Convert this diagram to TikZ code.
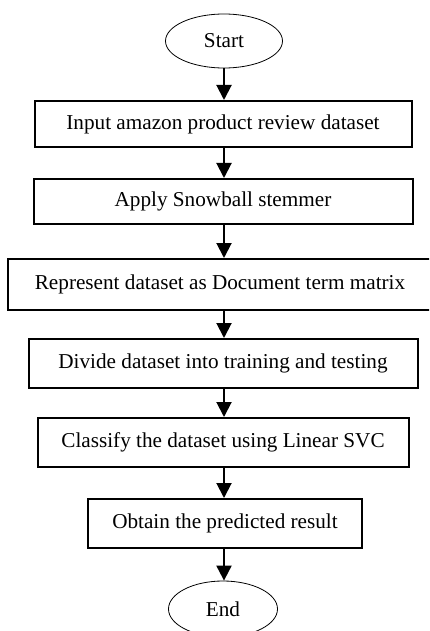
\documentclass[tikz,border=0pt]{standalone}
\usepackage{fontspec}
\setmainfont{Liberation Serif}
\usetikzlibrary{arrows.meta,shapes.geometric}
\begin{document}
\begin{tikzpicture}[x=1pt,y=-1pt,
  every node/.style={font=\fontsize{21.2}{25}\selectfont, inner sep=0pt},
  procbox/.style={draw, line width=2pt, rectangle},
  term/.style={draw, line width=0.8pt, ellipse},
  arr/.style={line width=2pt, -{Triangle[length=15pt,width=15pt]}}]
\useasboundingbox (0,0) rectangle (429,631);
\clip (0,0) rectangle (429,631);
\fill[white] (0,0) rectangle (429,631);
\node[term, minimum width=117pt, minimum height=54pt] (start) at (224,41) {Start};
\node[procbox, minimum width=377pt, minimum height=46pt] (b1) at (223,124) {Input amazon product review dataset};
\node[procbox, minimum width=379pt, minimum height=45pt] (b2) at (223,201.5) {Apply Snowball stemmer};
\node[procbox, minimum width=424pt, minimum height=51pt] (b3) at (220,284.5) {Represent dataset as Document term matrix};
\node[procbox, minimum width=389pt, minimum height=49pt] (b4) at (223,363.5) {Divide dataset into training and testing};
\node[procbox, minimum width=371pt, minimum height=49pt] (b5) at (223,442.5) {Classify the dataset using Linear SVC};
\node[procbox, minimum width=274pt, minimum height=49pt] (b6) at (225,523.5) {Obtain the predicted result};
\node[term, minimum width=109pt, minimum height=56pt] (end) at (223,609) {End};
\draw[arr] (start.south) -- (start.south |- b1.north);
\draw[arr] (start.south |- b1.south) -- (start.south |- b2.north);
\draw[arr] (start.south |- b2.south) -- (start.south |- b3.north);
\draw[arr] (start.south |- b3.south) -- (start.south |- b4.north);
\draw[arr] (start.south |- b4.south) -- (start.south |- b5.north);
\draw[arr] (start.south |- b5.south) -- (start.south |- b6.north);
\draw[arr] (start.south |- b6.south) -- (start.south |- end.north);
\end{tikzpicture}
\end{document}
